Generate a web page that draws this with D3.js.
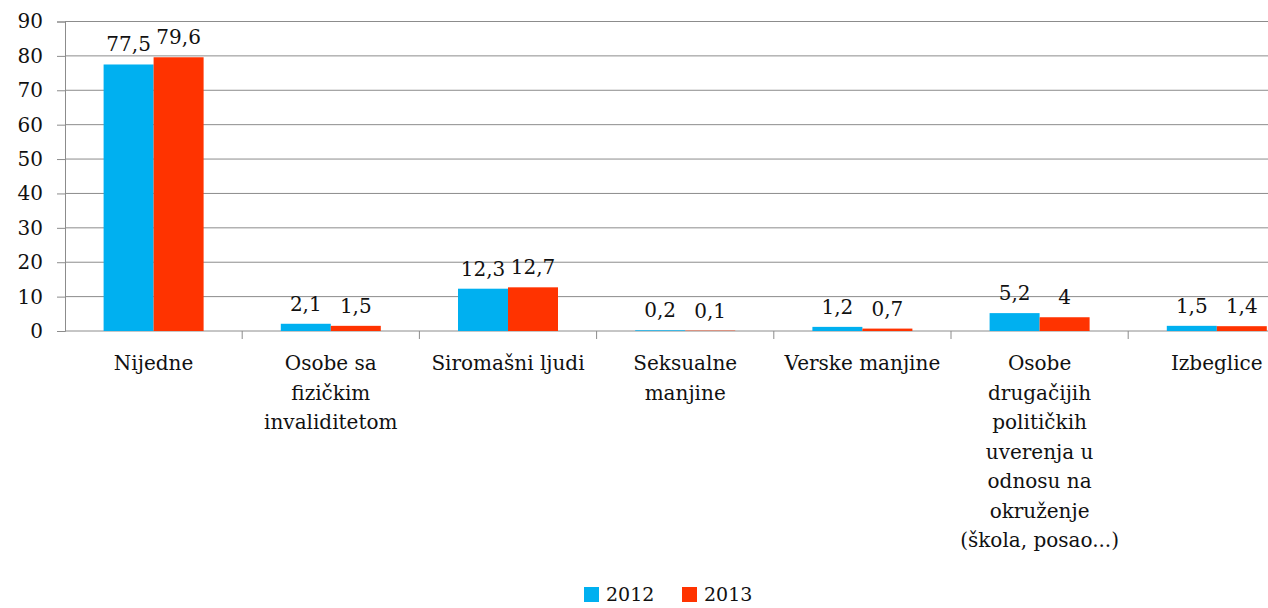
<!DOCTYPE html>
<html lang="sr">
<head>
<meta charset="UTF-8">
<title>Chart</title>
<style>
  body { margin: 0; background: #fff; }
  svg { display: block; }
  text { font-family: "DejaVu Serif", serif; fill: #111; }
</style>
</head>
<body>
<div id="chart"></div>
<script src="https://d3js.org/d3.v7.min.js"></script>
<script>
// data
const categories = [
  "Nijedne",
  "Osobe sa fizičkim invaliditetom",
  "Siromašni ljudi",
  "Seksualne manjine",
  "Verske manjine",
  "Osobe drugačijih političkih uverenja u odnosu na okruženje (škola, posao...)",
  "Izbeglice"
];
// how each category label wraps
const categoryLines = [
  ["Nijedne"],
  ["Osobe sa", "fizičkim", "invaliditetom"],
  ["Siromašni ljudi"],
  ["Seksualne", "manjine"],
  ["Verske manjine"],
  ["Osobe", "drugačijih", "političkih", "uverenja u", "odnosu na", "okruženje", "(škola, posao...)"],
  ["Izbeglice"]
];
const years = ["2012", "2013"];
const values2012 = [77.5, 2.1, 12.3, 0.2, 1.2, 5.2, 1.5];
const values2013 = [79.6, 1.5, 12.7, 0.1, 0.7, 4, 1.4];
const yTicks = [0, 10, 20, 30, 40, 50, 60, 70, 80, 90];

const colors = {"2012": "#00b0f0", "2013": "#ff3300"};
const W = 1268, H = 608;
const plotLeft = 65, plotBottom = 331, plotTop = 21.5;
const step = 177.2;

let svg = d3.select("#chart").append("svg")
  .attr("width", W).attr("height", H);

let x = d3.scaleBand()
  .domain(categories)
  .range([plotLeft, plotLeft + step * categories.length])
  .paddingInner(0).paddingOuter(0);

let xSub = d3.scaleBand()
  .domain(years)
  .range([0, x.bandwidth()])
  .paddingInner(0).paddingOuter(0.772);

let y = d3.scaleLinear().domain([0, 90]).range([plotBottom, plotTop]);

// gridlines + y axis
let yAxis = svg.append("g")
  .attr("transform", "translate(" + plotLeft + ",0)")
  .call(d3.axisLeft(y).tickValues(yTicks).tickSize(8).tickPadding(14)
    .tickFormat(d => d));
yAxis.select(".domain").attr("stroke", "#8c8c8c");
yAxis.selectAll(".tick line").attr("stroke", "#8c8c8c");
yAxis.selectAll(".tick text")
  .style("font-size", "20px").style("font-family", "DejaVu Serif, serif")
  .attr("fill", "#111");

svg.append("g").selectAll("line")
  .data(yTicks.filter(d => d > 0))
  .join("line")
  .attr("x1", plotLeft).attr("x2", W)
  .attr("y1", d => y(d)).attr("y2", d => y(d))
  .attr("stroke", "#8c8c8c").attr("stroke-width", 1);

// x axis
let xAxis = svg.append("g")
  .attr("transform", "translate(0," + plotBottom + ")");
xAxis.append("line")
  .attr("x1", plotLeft).attr("x2", W)
  .attr("stroke", "#8c8c8c");
xAxis.selectAll(".sep")
  .data(categories)
  .join("line")
  .attr("class", "sep")
  .attr("x1", d => x(d) + x.bandwidth()).attr("x2", d => x(d) + x.bandwidth())
  .attr("y1", 0).attr("y2", 8)
  .attr("stroke", "#8c8c8c");

// bars
let series = [values2012, values2013];
let groups = svg.append("g").selectAll("g")
  .data(categories)
  .join("g")
  .attr("transform", d => "translate(" + x(d) + ",0)");

groups.selectAll("rect")
  .data((d, i) => years.map((yr, k) => ({year: yr, value: series[k][i]})))
  .join("rect")
  .attr("x", d => xSub(d.year))
  .attr("width", xSub.bandwidth())
  .attr("y", d => y(d.value))
  .attr("height", d => plotBottom - y(d.value))
  .attr("fill", d => colors[d.year]);

groups.selectAll("text.val")
  .data((d, i) => years.map((yr, k) => ({year: yr, value: series[k][i]})))
  .join("text")
  .attr("class", "val")
  .attr("x", d => xSub(d.year) + xSub.bandwidth() / 2)
  .attr("y", d => y(d.value) - 13)
  .attr("text-anchor", "middle")
  .style("font-size", "20px")
  .text(d => String(d.value).replace(".", ","));

// category labels
groups.append("text")
  .attr("text-anchor", "middle")
  .style("font-size", "20px")
  .selectAll("tspan")
  .data((d, i) => categoryLines[i])
  .join("tspan")
  .attr("x", x.bandwidth() / 2)
  .attr("y", (d, i) => 370 + i * 29.5)
  .text(d => d);

// legend
let legend = svg.append("g").attr("transform", "translate(584,587)");
let items = legend.selectAll("g")
  .data(years)
  .join("g")
  .attr("transform", (d, i) => "translate(" + i * 98 + ",0)");
items.append("rect")
  .attr("width", 15).attr("height", 15)
  .attr("fill", d => colors[d]);
items.append("text")
  .attr("x", 22).attr("y", 14)
  .style("font-size", "19px")
  .text(d => d);
</script>
</body>
</html>
